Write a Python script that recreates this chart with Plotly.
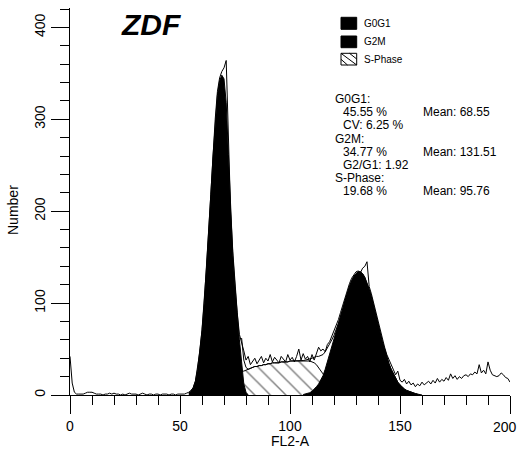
import plotly.graph_objects as go
import pandas as pd

# ---- DNA histogram (FL2-A channel, counts per channel 0..200) ----
raw_x = list(range(0, 201))
raw_counts = [
    42, 13, 3, 1, 1, 1, 1, 2, 3, 3,
    3, 2, 1, 1, 1, 0, 1, 1, 2, 1,
    2, 1, 1, 0, 1, 0, 1, 2, 1, 1,
    1, 0, 1, 2, 1, 0, 1, 1, 0, 1,
    1, 0, 1, 1, 1, 0, 1, 1, 0, 1,
    1, 1, 1, 2, 3, 5, 8, 15, 29, 47,
    71, 101, 137, 177, 219, 261, 300, 330, 345, 352,
    356, 364, 266, 200, 156, 122, 90, 66, 58, 48,
    38, 42, 33, 36, 40, 34, 38, 42, 35, 40,
    37, 44, 36, 41, 38, 35, 42, 39, 36, 44,
    38, 41, 36, 42, 50, 38, 45, 39, 42, 36,
    44, 38, 46, 52, 48, 50, 47, 55, 58, 64,
    68, 74, 82, 90, 98, 106, 114, 121, 127, 131,
    134, 135, 133, 138, 140, 145, 118, 110, 100, 90,
    80, 70, 60, 52, 44, 38, 32, 28, 22, 26,
    16, 14, 17, 12, 15, 11, 13, 9, 12, 10,
    14, 11, 13, 15, 12, 16, 13, 18, 14, 17,
    15, 19, 16, 23, 18, 21, 17, 20, 18, 21,
    22, 20, 23, 22, 25, 23, 33, 24, 27, 23,
    36, 27, 22, 21, 20, 21, 24, 22, 19, 18,
    14,
]

# ---- model components ----
g0g1_x = list(range(54, 82))
g0g1_y = [2, 4, 8, 15, 28, 46, 70, 100, 136, 176,
          218, 260, 298, 326, 342, 348, 344, 318, 262, 196,
          152, 118, 86, 60, 36, 12, 3, 0]

g2m_x = list(range(106, 161))
g2m_y = [0.5, 1, 1.5, 2.5, 4, 6, 9, 12, 16, 21,
         28, 36, 44, 52, 60, 68, 76, 85, 94, 103,
         111, 118, 124, 129, 132, 134, 134, 132, 128, 122,
         115, 107, 98, 88, 78, 68, 58, 49, 41, 34,
         28, 23, 18, 14, 11, 8.5, 6.5, 5, 4, 3,
         2, 1.5, 1, 0.5, 0]

sphase_x = list(range(58, 125))
sphase_y = [0, 1, 2, 3, 5, 7, 9, 11, 14, 16,
            19, 20, 22, 23, 24, 24, 25, 25, 26, 26,
            26, 26, 27, 28, 29, 30, 31, 31, 32, 32,
            33, 33, 34, 34, 35, 35, 35, 35, 36, 36,
            36, 36, 37, 37, 37, 37, 37, 37, 37, 37,
            37, 37, 36, 35, 33, 30, 27, 23, 19, 15,
            11, 8, 5, 3, 2, 1, 0]

peak_markers_x = [70.9, 135.0]

x_ticks = [0, 50, 100, 150, 200]
y_ticks = [0, 100, 200, 300, 400]

title_text = "ZDF"
legend_labels = ["G0G1", "G2M", "S-Phase"]
# (text, indented, right-column text)
stats_lines = [
    ("G0G1:", False, None),
    ("45.55 %", True, "Mean: 68.55"),
    ("CV: 6.25 %", True, None),
    ("G2M:", False, None),
    ("34.77 %", True, "Mean: 131.51"),
    ("G2/G1: 1.92", True, None),
    ("S-Phase:", False, None),
    ("19.68 %", True, "Mean: 95.76"),
]

# total fit = sum of the three components on the shared channel grid
fit = (pd.Series(g0g1_y, index=g0g1_x)
       .add(pd.Series(sphase_y, index=sphase_x), fill_value=0)
       .add(pd.Series(g2m_y, index=g2m_x), fill_value=0))
fit = fit[(fit.index >= 78) & (fit.index <= 158)]

FONT = "Liberation Sans, Arial, sans-serif"

# plot-area geometry (pixels) used for paper-coordinate placement of decorations
L, R, T, B = 70, 10, 8, 67
W, H = 520, 462
PW, PH = W - L - R, H - T - B


def px(xp):
    return (xp - L) / PW


def py(yp):
    return (H - B - yp) / PH


fig = go.Figure()

fig.add_trace(go.Scatter(
    x=sphase_x, y=sphase_y, mode="lines", fill="tozeroy",
    line=dict(color="black", width=1),
    fillcolor="white",
    fillpattern=dict(shape="\\", size=11, solidity=0.13,
                     fgcolor="black", bgcolor="white"),
    hoverinfo="skip", showlegend=False))

fig.add_trace(go.Scatter(
    x=g0g1_x, y=g0g1_y, mode="lines", fill="tozeroy",
    line=dict(color="black", width=1), fillcolor="black",
    hoverinfo="skip", showlegend=False))

fig.add_trace(go.Scatter(
    x=g2m_x, y=g2m_y, mode="lines", fill="tozeroy",
    line=dict(color="black", width=1), fillcolor="black",
    hoverinfo="skip", showlegend=False))

fig.add_trace(go.Scatter(
    x=list(fit.index), y=list(fit.values), mode="lines",
    line=dict(color="black", width=1),
    hoverinfo="skip", showlegend=False))

fig.add_trace(go.Scatter(
    x=raw_x, y=raw_counts, mode="lines",
    line=dict(color="black", width=1),
    hoverinfo="skip", showlegend=False))

fig.add_trace(go.Scatter(
    x=peak_markers_x, y=[-8.5] * len(peak_markers_x), mode="markers",
    marker=dict(symbol="triangle-up", size=14, color="black"),
    cliponaxis=False, hoverinfo="skip", showlegend=False))

# the last x tick label sits at the right edge; it is drawn right-aligned below
x_ticktext = [str(v) for v in x_ticks[:-1]] + [""]

fig.update_layout(
    width=W, height=H,
    margin=dict(l=L, r=R, t=T, b=B, pad=0, autoexpand=False),
    paper_bgcolor="white", plot_bgcolor="white",
    font=dict(family=FONT, size=14, color="black"),
    xaxis=dict(
        range=[0, 200], showgrid=False, zeroline=False, automargin=False,
        showline=True, linecolor="black", linewidth=1,
        ticks="outside", ticklen=18, tickwidth=1, tickcolor="black",
        tickvals=x_ticks, ticktext=x_ticktext,
        tickfont=dict(size=14),
        minor=dict(ticks="outside", ticklen=9, tickwidth=1,
                   tickcolor="black", dtick=10, showgrid=False),
    ),
    yaxis=dict(
        range=[0, 421.1], showgrid=False, zeroline=False, automargin=False,
        showline=True, linecolor="black", linewidth=1,
        ticks="outside", ticklen=18, tickwidth=1, tickcolor="black",
        tickvals=y_ticks, tickangle=-90,
        tickfont=dict(size=14),
        minor=dict(ticks="outside", ticklen=9, tickwidth=1,
                   tickcolor="black", dtick=20, showgrid=False),
    ),
)

annotations = [
    dict(text="<b><i>%s</i></b>" % title_text, x=px(151), y=py(24),
         font=dict(size=30, family=FONT)),
    dict(text="Number", x=px(13), y=py(210), textangle=-90,
         font=dict(size=14, family=FONT)),
    dict(text="FL2-A", x=px(290), y=py(441),
         font=dict(size=14, family=FONT)),
    dict(text=str(x_ticks[-1]), x=x_ticks[-1], xref="x", y=py(427),
         xanchor="right", xshift=9, font=dict(size=14, family=FONT)),
]

# legend boxes and labels
box_rows = [(17.3, 29.3), (36.0, 47.7), (53.3, 65.0)]
shapes = []
for i, ((y0, y1), lab) in enumerate(zip(box_rows, legend_labels)):
    filled = i < 2
    shapes.append(dict(type="rect", xref="paper", yref="paper",
                       x0=px(341), x1=px(356.7), y0=py(y1), y1=py(y0),
                       line=dict(color="black", width=1),
                       fillcolor="black" if filled else "white"))
    if not filled:
        for (ax, ay, bx, by) in [(341, y0, 356.7, y1),
                                 (341, y0 + 6, 347.5, y1),
                                 (349.5, y0, 356.7, y1 - 6)]:
            shapes.append(dict(type="line", xref="paper", yref="paper",
                               x0=px(ax), y0=py(ay), x1=px(bx), y1=py(by),
                               line=dict(color="black", width=1)))
    annotations.append(dict(text=lab, x=px(362), y=py((y0 + y1) / 2),
                            xanchor="left", font=dict(size=10, family=FONT)))

# statistics block
for k, (left, indented, right) in enumerate(stats_lines):
    yc = 99.0 + 13.2 * k
    annotations.append(dict(text=left, x=px(341 if indented else 333), y=py(yc),
                            xanchor="left", font=dict(size=12, family=FONT)))
    if right:
        annotations.append(dict(text=right, x=px(421), y=py(yc), xanchor="left",
                                font=dict(size=12, family=FONT)))

for a in annotations:
    a.setdefault("xref", "paper")
    a.setdefault("yref", "paper")
    a.setdefault("showarrow", False)
    a.setdefault("yanchor", "middle")
    a.setdefault("xanchor", "center")

fig.update_layout(annotations=annotations, shapes=shapes)

fig.write_html("out.html")
